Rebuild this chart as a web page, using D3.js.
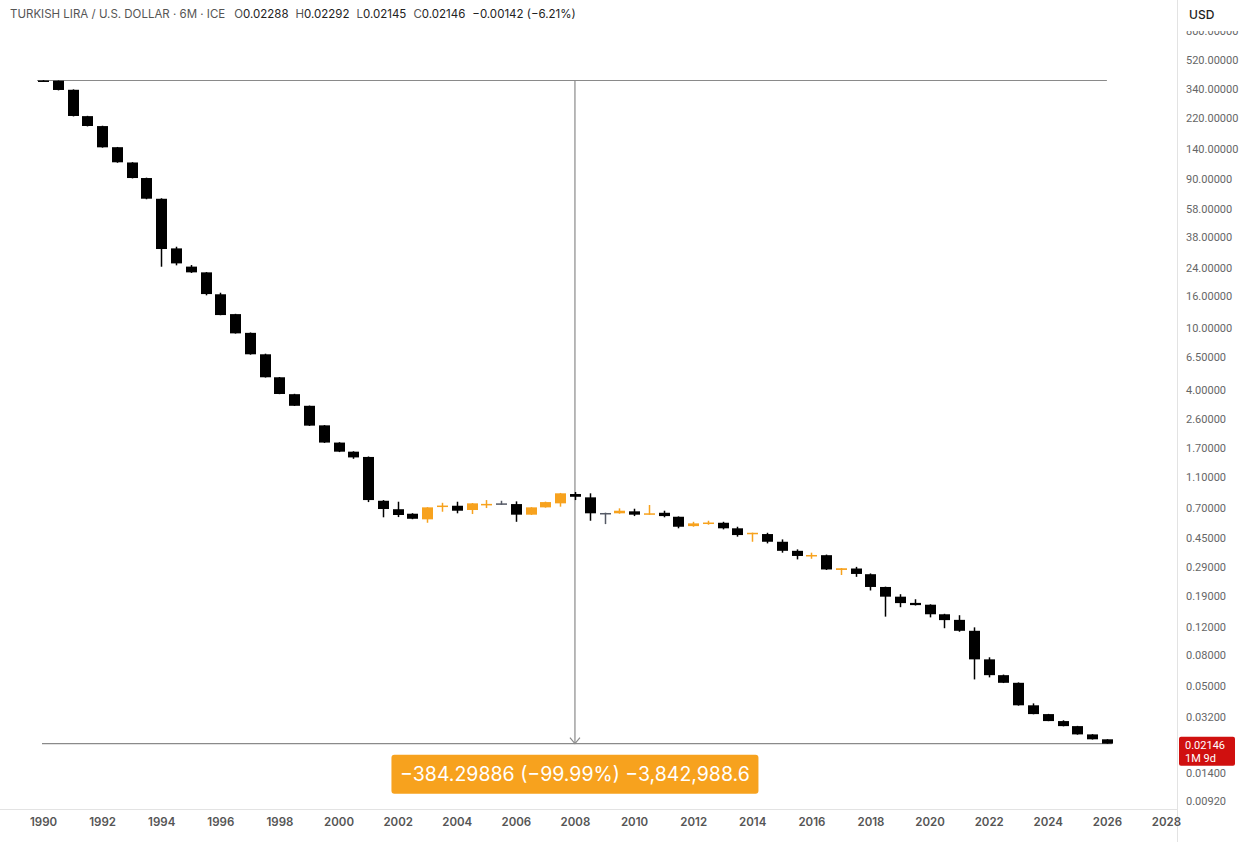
<!DOCTYPE html>
<html>
<head>
<meta charset="utf-8">
<script src="https://cdn.jsdelivr.net/npm/d3@7"></script>
<style>
  body { margin: 0; background: #fff; }
  svg { display: block; font-family: Inter, Roboto, "Noto Sans", sans-serif; }
</style>
</head>
<body>
<div id="chart"></div>
<script>
// 6M candles, TRY/USD, starting 1990 H1
const firstYear = 1990;
const opens = [384.3, 383, 335, 227, 196, 143.5, 114.5, 91, 67, 32.2, 24.6, 22.6, 16.35, 12.2, 9.25, 6.74, 4.8, 3.74, 3.15, 2.36,
  1.83, 1.6, 1.48, 0.775, 0.684, 0.64, 0.589, 0.718, 0.72, 0.676, 0.735, 0.746, 0.738, 0.631, 0.703, 0.746, 0.856, 0.815, 0.647, 0.644,
  0.663, 0.631, 0.649, 0.612, 0.533, 0.556, 0.56, 0.516, 0.474, 0.474, 0.423, 0.37, 0.345, 0.347, 0.279, 0.285, 0.262, 0.217, 0.188, 0.1715,
  0.167, 0.145, 0.1335, 0.1136, 0.0745, 0.059, 0.0527, 0.0378, 0.0332, 0.02995, 0.0278, 0.0246, 0.02288];
const highs = [386, 384, 337, 228, 197, 144, 115, 91.5, 67.5, 33.0, 25.18, 22.7, 16.73, 12.25, 9.3, 6.8, 4.82, 3.76, 3.16, 2.37,
  1.84, 1.61, 1.49, 0.783, 0.764, 0.645, 0.705, 0.752, 0.764, 0.75, 0.783, 0.775, 0.768, 0.705, 0.765, 0.87, 0.882, 0.865, 0.65, 0.693,
  0.689, 0.728, 0.669, 0.615, 0.568, 0.577, 0.568, 0.528, 0.484, 0.483, 0.438, 0.378, 0.36, 0.35, 0.287, 0.292, 0.265, 0.218, 0.195, 0.181,
  0.168, 0.146, 0.143, 0.1195, 0.0768, 0.0595, 0.053, 0.0389, 0.0333, 0.0303, 0.0279, 0.0247, 0.02292];
const lows = [381, 332, 226, 195, 142.5, 114, 90.5, 66.5, 24.56, 25.07, 22.4, 16.1, 12.0, 9.15, 6.7, 4.78, 3.74, 3.14, 2.34, 1.82,
  1.59, 1.44, 0.76, 0.607, 0.609, 0.59, 0.56, 0.659, 0.644, 0.637, 0.696, 0.73, 0.568, 0.628, 0.70, 0.71, 0.783, 0.577, 0.549, 0.64,
  0.618, 0.63, 0.607, 0.516, 0.528, 0.544, 0.508, 0.456, 0.423, 0.413, 0.36, 0.326, 0.329, 0.279, 0.259, 0.252, 0.206, 0.14, 0.161, 0.165,
  0.1385, 0.118, 0.112, 0.0554, 0.0571, 0.0525, 0.0376, 0.0331, 0.0299, 0.0277, 0.0245, 0.0228, 0.02145];
const closes = [383, 334, 227.5, 196.2, 143.2, 114.8, 91.0, 67.06, 31.9, 25.8, 22.6, 16.4, 12.03, 9.18, 6.74, 4.8, 3.75, 3.15, 2.35, 1.83,
  1.6, 1.47, 0.783, 0.686, 0.628, 0.594, 0.703, 0.722, 0.669, 0.746, 0.74, 0.746, 0.631, 0.703, 0.76, 0.865, 0.822, 0.644, 0.647, 0.669,
  0.631, 0.644, 0.618, 0.528, 0.555, 0.562, 0.516, 0.467, 0.483, 0.423, 0.37, 0.343, 0.348, 0.281, 0.286, 0.263, 0.217, 0.188, 0.171, 0.166,
  0.145, 0.133, 0.1136, 0.0745, 0.059, 0.0527, 0.0378, 0.0332, 0.02995, 0.0278, 0.0246, 0.02288, 0.02146];

const priceTicks = [800, 520, 340, 220, 140, 90, 58, 38, 24, 16, 10, 6.5, 4, 2.6, 1.7, 1.1, 0.7, 0.45, 0.29, 0.19, 0.12, 0.08, 0.05, 0.032, 0.014, 0.0092];
const yearTicks = [1990, 1992, 1994, 1996, 1998, 2000, 2002, 2004, 2006, 2008, 2010, 2012, 2014, 2016, 2018, 2020, 2022, 2024, 2026, 2028];

const measureFrom = 384.29886;
const measureTo = 0.02146;
const measureYear = 2008;
const measureLabel = "\u2212384.29886 (\u221299.99%) \u22123,842,988.6";
const lastPrice = "0.02146";
const countdown = "1M 9d";

const width = 1251, height = 842;
const paneRight = 1177, paneBottom = 809;
const upColor = "#f7a21e", downColor = "#000000", flatColor = "#555a66";

const candles = opens.map((o, i) => ({
  t: firstYear + i / 2, o, h: highs[i], l: lows[i], c: closes[i]
}));

const x = d3.scaleLinear().domain([1990, 2028]).range([43, 1166]);
const y = d3.scaleLog().domain([520, 0.0092]).range([60, 801]);

const svg = d3.select("#chart").append("svg")
  .attr("width", width)
  .attr("height", height);

svg.append("clipPath").attr("id", "pane")
  .append("rect").attr("x", 0).attr("y", 28).attr("width", paneRight).attr("height", paneBottom - 28);

const pane = svg.append("g").attr("clip-path", "url(#pane)");

// measurement lines
const xa = x(candles[0].t) - 6, xb = x(candles[candles.length - 1].t);
pane.append("line")
  .attr("x1", xa).attr("x2", xb)
  .attr("y1", y(measureFrom)).attr("y2", y(measureFrom))
  .attr("stroke", "#8a8a8a").attr("stroke-width", 1.2);
pane.append("line")
  .attr("x1", xa + 5).attr("x2", xb + 5)
  .attr("y1", y(measureTo)).attr("y2", y(measureTo))
  .attr("stroke", "#8a8a8a").attr("stroke-width", 1.2);
pane.append("line")
  .attr("x1", x(measureYear)).attr("x2", x(measureYear))
  .attr("y1", y(measureFrom)).attr("y2", y(measureTo))
  .attr("stroke", "#8a8a8a").attr("stroke-width", 1.2);
pane.append("path")
  .attr("d", `M${x(measureYear) - 5},${y(measureTo) - 6}L${x(measureYear)},${y(measureTo)}L${x(measureYear) + 5},${y(measureTo) - 6}`)
  .attr("fill", "none").attr("stroke", "#8a8a8a").attr("stroke-width", 1.2);

// candles
const bw = 11;
const colorOf = d => d.c > d.o ? upColor : (d.c < d.o ? downColor : flatColor);
const cg = pane.selectAll("g.candle").data(candles).join("g").attr("class", "candle");
cg.append("line")
  .attr("x1", d => Math.round(x(d.t)) + 0.5).attr("x2", d => Math.round(x(d.t)) + 0.5)
  .attr("y1", d => y(d.h)).attr("y2", d => y(d.l))
  .attr("stroke", colorOf).attr("stroke-width", 1.5);
cg.append("rect")
  .attr("x", d => Math.round(x(d.t)) + 0.5 - bw / 2)
  .attr("y", d => y(Math.max(d.o, d.c)))
  .attr("width", bw)
  .attr("height", d => Math.max(1.5, y(Math.min(d.o, d.c)) - y(Math.max(d.o, d.c))))
  .attr("fill", colorOf);

// measurement label
const boxW = 367, boxH = 39;
pane.append("rect")
  .attr("x", x(measureYear) - boxW / 2).attr("y", y(measureTo) + 11)
  .attr("width", boxW).attr("height", boxH).attr("rx", 3)
  .attr("fill", upColor);
pane.append("text")
  .attr("x", x(measureYear)).attr("y", y(measureTo) + 11 + boxH / 2)
  .attr("text-anchor", "middle").attr("dominant-baseline", "central")
  .attr("fill", "#fff").style("font-size", "19.5px")
  .text(measureLabel);

// price axis
svg.append("line")
  .attr("x1", paneRight + 0.5).attr("x2", paneRight + 0.5).attr("y1", 0).attr("y2", height)
  .attr("stroke", "#e3e3e3");
const yAxis = svg.append("g")
  .attr("transform", `translate(${paneRight},0)`)
  .call(d3.axisRight(y).tickValues(priceTicks).tickSize(0).tickPadding(9).tickFormat(d3.format(".5f")));
yAxis.select(".domain").remove();
yAxis.selectAll("text")
  .attr("fill", "#666")
  .style("font-size", "11px")
  .style("font-family", "Roboto, sans-serif");
svg.append("rect").attr("x", paneRight + 1).attr("y", 0).attr("width", width - paneRight).attr("height", 31).attr("fill", "#fff");
svg.append("text")
  .attr("x", 1189).attr("y", 19)
  .attr("fill", "#222").style("font-size", "12px").style("font-weight", 500)
  .text("USD");

// last price tag
const tag = svg.append("g").attr("transform", `translate(${paneRight + 2},${y(measureTo) - 7})`);
tag.append("rect").attr("width", 56).attr("height", 29).attr("rx", 2).attr("fill", "#d0100f");
tag.append("text").attr("x", 6).attr("y", 12).attr("fill", "#fff").style("font-size", "11px").style("font-family", "Roboto, sans-serif").text(lastPrice);
tag.append("text").attr("x", 6).attr("y", 25).attr("fill", "#fff").style("font-size", "11px").style("font-family", "Roboto, sans-serif").text(countdown);

// time axis
svg.append("line")
  .attr("x1", 0).attr("x2", paneRight).attr("y1", paneBottom + 0.5).attr("y2", paneBottom + 0.5)
  .attr("stroke", "#e3e3e3");
const xAxis = svg.append("g")
  .attr("transform", `translate(0,${paneBottom})`)
  .call(d3.axisBottom(x).tickValues(yearTicks).tickSize(0).tickPadding(9).tickFormat(d3.format("d")));
xAxis.select(".domain").remove();
xAxis.selectAll("text")
  .attr("fill", "#555")
  .style("font-size", "11.5px")
  .style("font-weight", 600)
  .style("font-family", "Inter, Roboto, sans-serif");

// header
const head = svg.append("text").attr("x", 10).attr("y", 18).style("font-size", "11.5px");
head.append("tspan").attr("fill", "#555").text("TURKISH LIRA / U.S. DOLLAR \u00b7 6M \u00b7 ICE");
const ohlc = [["O", opens], ["H", highs], ["L", lows], ["C", closes]];
ohlc.forEach(([k, arr], i) => {
  head.append("tspan").attr("dx", i === 0 ? 9 : 7).attr("fill", "#555").text(k);
  head.append("tspan").attr("fill", "#222").text(arr[arr.length - 1].toFixed(5));
});
const chg = closes[closes.length - 1] - closes[closes.length - 2];
head.append("tspan").attr("dx", 7).attr("fill", "#222")
  .text(`\u2212${Math.abs(chg).toFixed(5)} (\u2212${Math.abs(chg / closes[closes.length - 2] * 100).toFixed(2)}%)`);
</script>
</body>
</html>
